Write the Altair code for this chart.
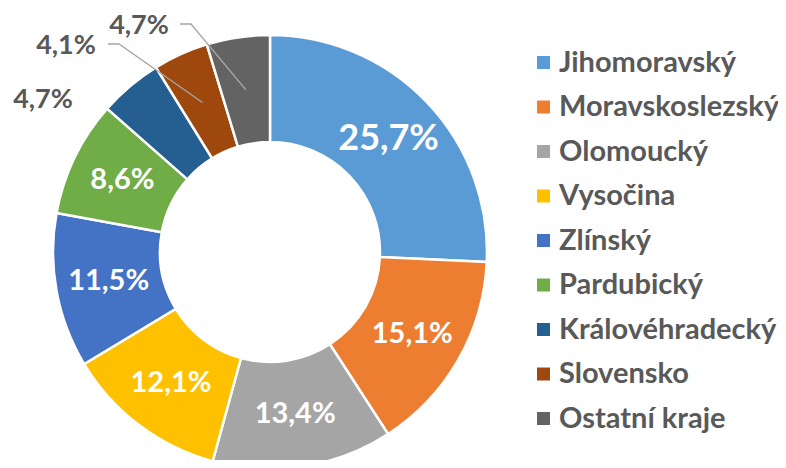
import altair as alt
import numpy as np
import pandas as pd

# ---- data ----
categories = ["Jihomoravský", "Moravskoslezský", "Olomoucký", "Vysočina", "Zlínský",
              "Pardubický", "Královéhradecký", "Slovensko", "Ostatní kraje"]
values = [25.7, 15.1, 13.4, 12.1, 11.5, 8.6, 4.7, 4.1, 4.7]
colors = ["#5B9BD5", "#ED7D31", "#A5A5A5", "#FFC000", "#4472C4",
          "#70AD47", "#255E91", "#9E480E", "#636363"]

# ---- layout ----
W, H = 770, 452
CX, CY = 262, 244
R_OUT, R_IN = 217, 110
R_LBL = 164
FONT = "Lato"
WEIGHT = "bold"
TXT = "#595959"
inside = categories[:6]
OUTER_POS = {"Královéhradecký": (-227, -152), "Slovensko": (-204, -206), "Ostatní kraje": (-131, -226)}
LEADER_START = {"Slovensko": (-162, -208), "Ostatní kraje": (-90, -228)}
ELBOW = 11


def fmt(v):
    return f"{v:.1f}".replace(".", ",") + "%"


total = sum(values)
vals = np.array(values)
cum = np.concatenate([[0], np.cumsum(vals)[:-1]])
mid = (cum + vals / 2) / total * 2 * np.pi

df = pd.DataFrame({
    "cat": categories,
    "value": values,
    "idx": list(range(len(values))),
    "label": [fmt(v) for v in values],
    "mx": CX + R_LBL * np.sin(mid),
    "my": CY - R_LBL * np.cos(mid),
})

outer = df[df["cat"].isin(list(OUTER_POS))].copy()
outer["ox"] = [CX + OUTER_POS[c][0] for c in outer["cat"]]
outer["oy"] = [CY + OUTER_POS[c][1] for c in outer["cat"]]

rows = []
for c, (sx, sy) in LEADER_START.items():
    r = df[df["cat"] == c].iloc[0]
    rows.append({"cat": c, "step": 0, "px": CX + sx, "py": CY + sy})
    rows.append({"cat": c, "step": 1, "px": CX + sx + ELBOW, "py": CY + sy})
    rows.append({"cat": c, "step": 2, "px": r["mx"], "py": r["my"]})
lines_df = pd.DataFrame(rows)

arcs = alt.Chart(df).mark_arc(outerRadius=R_OUT, innerRadius=R_IN, stroke="white", strokeWidth=2.5).encode(
    theta=alt.Theta("value:Q", stack=True),
    order=alt.Order("idx:Q", sort="ascending"),
    color=alt.Color("cat:N", scale=alt.Scale(domain=categories, range=colors),
                    legend=alt.Legend(title=None, orient="none", legendX=521, legendY=40,
                                      symbolType="square", symbolSize=169, symbolStrokeWidth=0,
                                      labelFont=FONT, labelFontWeight=WEIGHT, labelFontSize=29,
                                      labelColor=TXT, rowPadding=14.5, labelOffset=1, padding=0,
                                      labelLimit=400)),
    x=alt.value(CX), y=alt.value(CY),
)

inner_text = alt.Chart(df).transform_filter(
    alt.FieldOneOfPredicate(field="cat", oneOf=inside)
).mark_text(font=FONT, fontWeight=WEIGHT, color="white", align="center", baseline="middle").encode(
    x=alt.X("mx:Q", scale=None, axis=None),
    y=alt.Y("my:Q", scale=None, axis=None),
    text="label:N",
    size=alt.condition(alt.datum.cat == "Jihomoravský", alt.value(36), alt.value(29)),
)

outer_text = alt.Chart(outer).mark_text(font=FONT, fontWeight=WEIGHT, color=TXT, fontSize=27,
                                        align="center", baseline="middle").encode(
    x=alt.X("ox:Q", scale=None, axis=None),
    y=alt.Y("oy:Q", scale=None, axis=None),
    text="label:N",
)

leaders = alt.Chart(lines_df).mark_line(color="#A6A6A6", strokeWidth=1.3).encode(
    x=alt.X("px:Q", scale=None, axis=None),
    y=alt.Y("py:Q", scale=None, axis=None),
    detail="cat:N",
    order="step:Q",
)

chart = alt.layer(arcs, leaders, inner_text, outer_text).properties(
    width=W, height=H, padding=0, autosize=alt.AutoSizeParams(type="none"),
    background="white",
).configure_view(stroke=None)

chart.save("out.html", embed_options={"renderer": "svg", "actions": False})
